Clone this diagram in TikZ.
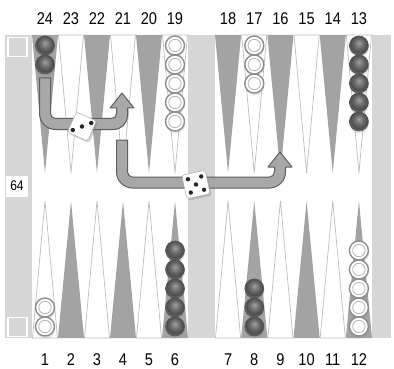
\documentclass[tikz,border=0pt]{standalone}
\usepackage{fontspec}
\newfontfamily\numfont[FakeStretch=0.86]{Liberation Sans}
\usetikzlibrary{shadows}
\definecolor{panel}{HTML}{D6D6D6}
\definecolor{ptgray}{HTML}{A3A3A3}
\definecolor{ptline}{HTML}{BDBDBD}
\definecolor{arrowfill}{HTML}{A8A8A8}
\definecolor{arrowline}{HTML}{5E5E5E}
\definecolor{chkhi}{HTML}{A0A0A0}
\definecolor{chkmid}{HTML}{6C6C6C}
\definecolor{chkdk}{HTML}{4A4A4A}
\definecolor{chkrim}{HTML}{6A6A6A}
\definecolor{chkedge}{HTML}{505050}
\definecolor{chkwedge}{HTML}{8E8E8E}
\definecolor{chkwin}{HTML}{B4B4B4}
\definecolor{dieedge}{HTML}{ADADAD}
\definecolor{faint}{HTML}{DDD6B8}
\pgfdeclareradialshading{darkchk}{\pgfpoint{0bp}{7bp}}{color(0bp)=(chkhi); color(12bp)=(chkmid); color(23bp)=(chkdk); color(25bp)=(chkrim); color(50bp)=(chkrim)}
\begin{document}
\begin{tikzpicture}[x=1pt,y=-1pt,
  lbl/.style={font=\numfont\fontsize{17}{18}\selectfont, inner sep=0pt},
  gtri/.style={fill=ptgray},
  wtri/.style={fill=white,draw=ptline,line width=0.7pt},
  chkd/.style={circle,minimum size=19pt,inner sep=0pt,shade,shading=darkchk,draw=chkedge,line width=0.6pt,
    drop shadow={opacity=0.22,shadow xshift=0.5pt,shadow yshift=-2.5pt}},
  chkw/.style={circle,minimum size=19pt,inner sep=0pt,fill=white,draw=chkwedge,line width=1.4pt,
    drop shadow={opacity=0.22,shadow xshift=0.5pt,shadow yshift=-2.5pt},
    path picture={\draw[chkwin,line width=0.8pt] (path picture bounding box.center) circle (6.2pt);}},
  movearrow/.style={fill=arrowfill,draw=arrowline,line width=1pt,line join=round},
  die/.style={rectangle,rounded corners=2.5pt,fill=white,draw=dieedge,line width=0.5pt,minimum size=#1,inner sep=0pt,
    transform shape,drop shadow={opacity=0.35,shadow xshift=1.5pt,shadow yshift=-2pt}},
  pip/.style={fill=black!85},
  cubebox/.style={rectangle,fill=panel,draw=white,line width=1.5pt,minimum size=19pt,inner sep=0pt,
    text=faint,font=\sffamily\fontsize{10}{10}\selectfont},
  cube/.style={rectangle,fill=white,minimum width=22pt,minimum height=21pt,inner sep=0pt,
    font=\numfont\fontsize{14}{14}\selectfont}
]
\useasboundingbox (0,0) rectangle (394,369);
% panels and bar
\fill[panel] (5,35) rectangle (32,338);
\fill[panel] (188,35) rectangle (215,338);
\fill[panel] (372,35) rectangle (391,338);
\fill[white] (32,35) rectangle (188,338);
\fill[white] (215,35) rectangle (372,338);
% points
\foreach \i in {0,...,5}{
  \pgfmathsetmacro\xa{32+26*\i}
  \pgfmathsetmacro\xb{\xa+26}
  \pgfmathsetmacro\xm{\xa+13}
  \pgfmathsetmacro\ya{215+26.17*\i}
  \pgfmathsetmacro\yb{\ya+26.17}
  \pgfmathsetmacro\ym{\ya+13.08}
  \ifodd\i
    \path[wtri] (\xa+0.5,35) -- (\xb-0.5,35) -- (\xm,173) -- cycle;
    \path[gtri] (\xa,338) -- (\xb,338) -- (\xm,201) -- cycle;
    \path[wtri] (\ya+0.5,35) -- (\yb-0.5,35) -- (\ym,173) -- cycle;
    \path[gtri] (\ya,338) -- (\yb,338) -- (\ym,201) -- cycle;
  \else
    \path[gtri] (\xa,35) -- (\xb,35) -- (\xm,173) -- cycle;
    \path[wtri] (\xa+0.5,338) -- (\xb-0.5,338) -- (\xm,201) -- cycle;
    \path[gtri] (\ya,35) -- (\yb,35) -- (\ym,173) -- cycle;
    \path[wtri] (\ya+0.5,338) -- (\yb-0.5,338) -- (\ym,201) -- cycle;
  \fi
}
% checkers
\node[chkd] (c24a) at (45,45.5) {};
\node[chkd] (c24b) at (45,64.5) {};
\foreach \k/\y in {a/45.5,b/64.5,c/83.5,d/102.5,e/121.5}{
  \node[chkw] (c19\k) at (175,\y) {};
  \node[chkd] (c13\k) at (358.9,\y) {};
}
\foreach \k/\y in {a/45.5,b/64.5,c/83.5}{
  \node[chkw] (c17\k) at (254.3,\y) {};
}
\foreach \k/\y in {e/250.5,d/269.5,c/288.5,b/307.5,a/326.5}{
  \node[chkd] (c6\k) at (175,\y) {};
  \node[chkw] (c12\k) at (358.9,\y) {};
}
\foreach \k/\y in {c/288.5,b/307.5,a/326.5}{
  \node[chkd] (c8\k) at (254.3,\y) {};
}
\node[chkw] (c1b) at (45,307.5) {};
\node[chkw] (c1a) at (45,326.5) {};
% move arrows
\path[movearrow] (39.5,78) -- (39.5,113.5) .. controls (39.5,122.3) and (46.7,129.5) .. (55.5,129.5)
  -- (113.5,129.5) .. controls (121.2,129.5) and (127.5,123.2) .. (127.5,115.5)
  -- (127.5,108) -- (134,108) -- (122,93) -- (110,108) -- (116.5,108) -- (116.5,113.5)
  .. controls (116.5,116.3) and (114.3,118.5) .. (111.5,118.5) -- (55.5,118.5)
  .. controls (52.7,118.5) and (50.5,116.3) .. (50.5,113.5) -- (50.5,78) -- cycle;
\path[movearrow] (116.5,140) -- (116.5,172) .. controls (116.5,180.8) and (123.7,188) .. (132.5,188)
  -- (269.5,188) .. controls (278.3,188) and (285.5,180.8) .. (285.5,172)
  -- (285.5,167) -- (292,167) -- (280,152) -- (268,167) -- (274.5,167) -- (274.5,172)
  .. controls (274.5,174.8) and (272.3,177) .. (269.5,177) -- (132.5,177)
  .. controls (129.7,177) and (127.5,174.8) .. (127.5,172) -- (127.5,140) -- cycle;
% dice
\begin{scope}[shift={(82,126.5)},rotate=-24]
  \node[die=22pt] (d1) at (0,0) {};
  \fill[pip] (-7,7) circle (2.2pt) (0,0) circle (2.2pt) (7,-7) circle (2.2pt);
\end{scope}
\begin{scope}[shift={(196,184.5)},rotate=12]
  \node[die=24pt] (d2) at (0,0) {};
  \fill[pip] (-6.8,-6.8) circle (2.2pt) (6.8,-6.8) circle (2.2pt) (0,0) circle (2.2pt)
    (-6.8,6.8) circle (2.2pt) (6.8,6.8) circle (2.2pt);
\end{scope}
% side panel boxes
\node[cubebox] (bt) at (17.5,47) {2};
\node[cubebox] (bb) at (17.5,327) {2};
\node[cube] (cube) at (17,186) {64};
% labels
\foreach \i in {0,...,5}{
  \pgfmathtruncatemacro\nt{24-\i}
  \pgfmathtruncatemacro\nb{1+\i}
  \pgfmathtruncatemacro\rt{18-\i}
  \pgfmathtruncatemacro\rb{7+\i}
  \node[lbl] (n\nt) at (45+26*\i,18.5) {\nt};
  \node[lbl] (n\nb) at (45+26*\i,359.5) {\nb};
  \node[lbl] (n\rt) at (228.1+26.17*\i,18.5) {\rt};
  \node[lbl] (n\rb) at (228.1+26.17*\i,359.5) {\rb};
}
\end{tikzpicture}
\end{document}
